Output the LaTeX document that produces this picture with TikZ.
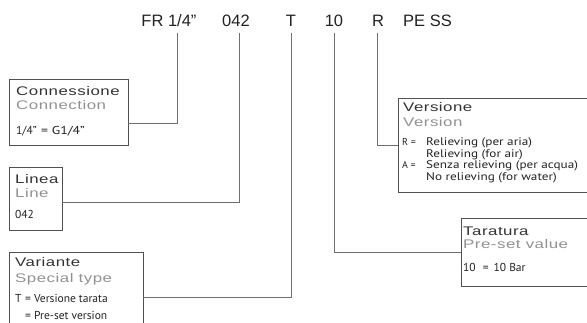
\documentclass[tikz,border=0pt]{standalone}
\usepackage{fontspec}
\setmainfont{Liberation Sans}
\newfontfamily\titlefont[FakeStretch=1.35,LetterSpace=4]{Liberation Sans}
\newfontfamily\detailfont{PT Sans}
\newfontfamily\widedetailfont[FakeStretch=1.2]{PT Sans}
\definecolor{ink}{HTML}{222222}
\definecolor{ttlink}{HTML}{333333}
\definecolor{subgray}{HTML}{919191}
\definecolor{boxline}{HTML}{505050}
\definecolor{conline}{HTML}{6E6E6E}
\tikzset{
  box/.style={draw=boxline, line width=0.9pt, inner sep=0pt, fill=none},
  conn/.style={draw=conline, line width=0.9pt},
  hdr/.style={anchor=base, inner sep=0pt, text=ink, font=\fontsize{16.5}{18}\selectfont},
  ttl/.style={anchor=base west, inner sep=0pt, text=ttlink, font=\titlefont\fontsize{12.5}{14}\selectfont},
  sub/.style={anchor=base west, inner sep=0pt, text=subgray, font=\titlefont\fontsize{12.5}{14}\selectfont},
  det/.style={anchor=base west, inner sep=0pt, text=ink, font=\detailfont\fontsize{11.5}{13}\selectfont},
  detw/.style={anchor=base west, inner sep=0pt, text=ink, font=\widedetailfont\fontsize{11.5}{13}\selectfont},
  dets/.style={anchor=base west, inner sep=0pt, text=ink, font=\widedetailfont\fontsize{11}{12}\selectfont},
  detl/.style={anchor=base west, inner sep=0pt, text=ink, font=\detailfont\fontsize{10}{12}\selectfont},
}
\begin{document}
\begin{tikzpicture}[x=1pt,y=-1pt]
\useasboundingbox (0,0) rectangle (587,323);
% header
\node[hdr] (hFR) at (169,27) {FR 1/4”};
\node[hdr] (h042) at (236,27) {042};
\node[hdr] (hT) at (291,27) {T};
\node[hdr] (h10) at (334,27) {10};
\node[hdr] (hR) at (378,27) {R};
\node[hdr, anchor=base west] (hPE) at (403,27) {PE SS};
\coordinate (k1) at (177,33);
\coordinate (k2) at (239,33);
\coordinate (k3) at (291,33);
\coordinate (k4) at (334,33);
\coordinate (k5) at (377,33);
% boxes
\node[box, minimum width=119pt, minimum height=66pt] (connbox) at (68.5,112) {};
\node[box, minimum width=53pt, minimum height=63pt] (linebox) at (35.5,198.5) {};
\node[box, minimum width=134pt, minimum height=90pt] (varbox) at (76,297) {};
\node[box, minimum width=202pt, minimum height=94pt] (verbox) at (499,145) {};
\node[box, minimum width=139pt, minimum height=68pt] (tarbox) at (530.5,252) {};
% connectors
\draw[conn] (k1) |- ([yshift=-11pt]connbox.east);
\draw[conn] (k2) |- ([yshift=-3.5pt]linebox.east);
\draw[conn] (k3) |- (varbox.east);
\draw[conn] (k4) |- (tarbox.west);
\draw[conn] (k5) |- (verbox.west);
% Connessione
\node[ttl] (cT) at (16,96) {Connessione};
\node[sub] (cS) at (16,110) {Connection};
\node[det] (cDa) at (16,135) {1/4”};
\node[detw] (cDb) at (41,135) {= G1/4”};
% Linea
\node[ttl] (lT) at (15,184) {Linea};
\node[sub] (lS) at (15,198) {Line};
\node[det] (lD) at (15,219) {042};
% Variante
\node[ttl] (vT) at (15,267) {Variante};
\node[sub] (vS) at (15,283) {Special type};
\node[det] (vD1a) at (15,303) {T};
\node[det] (vD1b) at (25,303) {= Versione tarata};
\node[det] (vD2) at (25,320) {= Pre-set version};
% Versione
\node[ttl] (eT) at (403,112) {Versione};
\node[sub] (eS) at (403,127) {Version};
\node[detl] (eR) at (402,146) {R =};
\node[dets] (eR1) at (426,146) {Relieving (per aria)};
\node[dets] (eR2) at (426,158) {Relieving (for air)};
\node[detl] (eA) at (402,169) {A =};
\node[dets] (eA1) at (426,169) {Senza relieving (per acqua)};
\node[dets] (eA2) at (426,181) {No relieving (for water)};
% Taratura
\node[ttl] (tT) at (463,236) {Taratura};
\node[sub] (tS) at (463,249) {Pre-set value};
\node[det] (tD) at (463,272) {10\hspace{4pt} = \hspace{2pt}10 Bar};
\end{tikzpicture}
\end{document}
